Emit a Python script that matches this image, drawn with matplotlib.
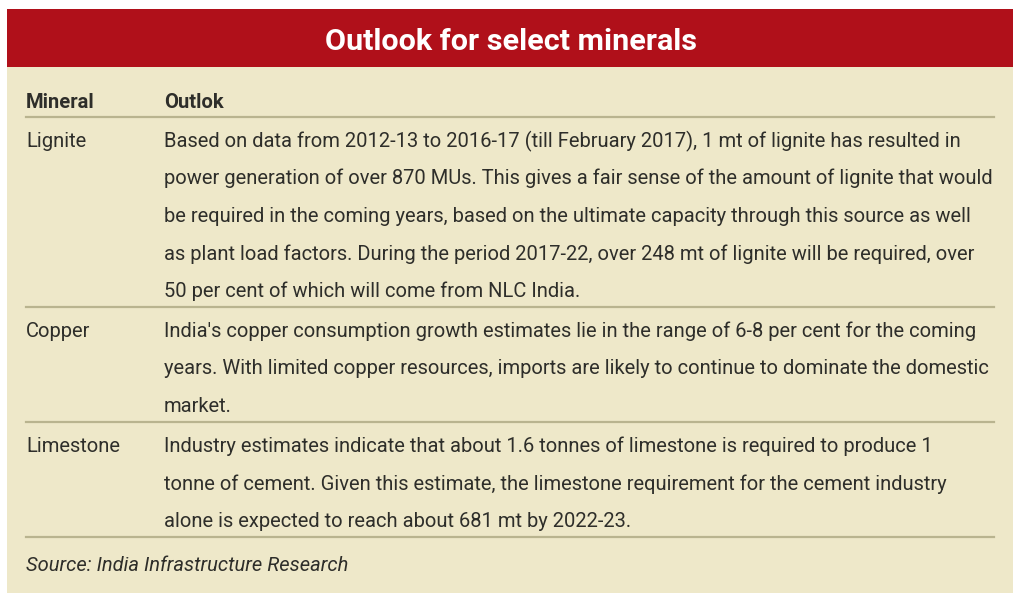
import matplotlib
matplotlib.use("Agg")
import matplotlib.pyplot as plt
from matplotlib import font_manager as fm

title = "Outlook for select minerals"
col_headers = ["Mineral", "Outlok"]
minerals = ["Lignite", "Copper", "Limestone"]
outlooks = [
    ["Based on data from 2012-13 to 2016-17 (till February 2017), 1 mt of lignite has resulted in",
     "power generation of over 870 MUs. This gives a fair sense of the amount of lignite that would",
     "be required in the coming years, based on the ultimate capacity through this source as well",
     "as plant load factors. During the period 2017-22, over 248 mt of lignite will be required, over",
     "50 per cent of which will come from NLC India."],
    ["India's copper consumption growth estimates lie in the range of 6-8 per cent for the coming",
     "years. With limited copper resources, imports are likely to continue to dominate the domestic",
     "market."],
    ["Industry estimates indicate that about 1.6 tonnes of limestone is required to produce 1",
     "tonne of cement. Given this estimate, the limestone requirement for the cement industry",
     "alone is expected to reach about 681 mt by 2022-23."],
]
source = "Source: India Infrastructure Research"

body_font = "Roboto"

W, H = 1024, 608
fig = plt.figure(figsize=(W / 100, H / 100), dpi=100)
ax = fig.add_axes([0, 0, 1, 1])
ax.set_xlim(0, W)
ax.set_ylim(H, 0)
ax.axis("off")
fig.patch.set_facecolor("white")

red = "#B0101A"
cream = "#EEE8C9"
rule = "#B9B48F"
ink = "#2E2E2A"

ax.add_patch(plt.Rectangle((7, 67), 1006, 526, facecolor=cream, edgecolor="none"))
ax.add_patch(plt.Rectangle((7, 9), 1006, 58, facecolor=red, edgecolor="none"))

# banner title: fit width, then centre the capitals vertically in the band
title_fp = fm.FontProperties(family="Roboto", weight="bold", size=24)
t = ax.text(511, 53, title, color="white", fontproperties=title_fp,
            ha="center", va="baseline")
fig.canvas.draw()
bb = t.get_window_extent()
target = 372.0
size = title_fp.get_size() * target / bb.width
title_fp.set_size(size)
t.set_fontproperties(title_fp)
cap_px = 0.711 * size * 100 / 72
t.set_y(39.5 + cap_px / 2)

x_min, x_out, x_end = 26, 164, 994
line_h = 37.5
fs = 14.5
ax.text(x_min, 108, col_headers[0], fontsize=fs, fontweight="bold", family=body_font,
        color=ink, va="baseline")
ax.text(x_out, 108, col_headers[1], fontsize=fs, fontweight="bold", family=body_font,
        color=ink, va="baseline")
ax.plot([x_min, x_end], [117, 117], color=rule, lw=1.6)

y = 147
for m, lines in zip(minerals, outlooks):
    ax.text(x_min, y, m, fontsize=fs, family=body_font, color=ink, va="baseline")
    for i, ln in enumerate(lines):
        ax.text(x_out, y + i * line_h, ln, fontsize=fs, family=body_font,
                color=ink, va="baseline")
    sep = y + (len(lines) - 1) * line_h + 10
    ax.plot([x_min, x_end], [sep, sep], color=rule, lw=1.6)
    y = sep + 30

ax.text(x_min, 571, source, fontsize=fs, family=body_font, style="italic",
        color=ink, va="baseline")

fig.savefig("out.png", dpi=100, facecolor="white")
